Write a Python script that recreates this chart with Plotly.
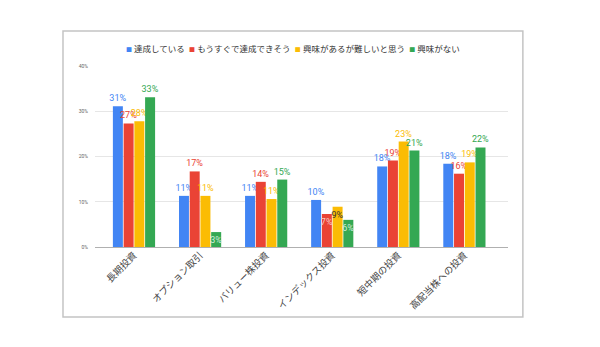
import plotly.graph_objects as go

# Survey categories (investment styles)
categories = ["長期投資", "オプション取引", "バリュー株投資", "インデックス投資", "短中期の投資", "高配当株への投資"]

# Share of respondents per answer, in percent
series_names = ["達成している", "もうすぐで達成できそう", "興味があるが難しいと思う", "興味がない"]
achieved = [31.1, 11.3, 11.3, 10.4, 17.8, 18.4]
almost = [27.3, 16.7, 14.4, 7.3, 19.1, 16.2]
difficult = [27.8, 11.3, 10.6, 8.9, 23.3, 18.7]
not_interested = [33.1, 3.3, 14.9, 6.0, 21.3, 22.0]

y_ticks = [0, 10, 20, 30, 40]

colors = ["#4285F4", "#EA4335", "#FBBC04", "#34A853"]
inside_text_colors = ["#dce8fd", "#f9c9c4", "#333333", "#cfeedd"]

font_family = "Roboto, 'Noto Sans CJK JP', sans-serif"

fig = go.Figure()
for name, vals, col, in_col in zip(series_names, [achieved, almost, difficult, not_interested],
                                    colors, inside_text_colors):
    positions = ["inside" if v < 9.5 else "outside" for v in vals]
    fig.add_trace(go.Bar(
        x=categories, y=vals, name=name,
        marker=dict(color=col, line=dict(width=0)),
        text=[f"{round(v)}%" for v in vals],
        textposition=positions,
        textangle=0,
        insidetextanchor="end",
        textfont=dict(family=font_family, size=9, color=col),
        insidetextfont=dict(family=font_family, size=9, color=in_col),
        outsidetextfont=dict(family=font_family, size=9, color=col),
        constraintext="none",
        cliponaxis=False,
        showlegend=False,
        hoverinfo="skip",
    ))

# Compact one-line legend: small coloured square followed by the series name
nb = "\u00a0"
legend_parts = [
    f'<span style="color:{c};font-size:6px">■</span>{nb}{n}'
    for n, c in zip(series_names, colors)
]
legend_text = (nb * 2).join(legend_parts)

fig.update_layout(
    width=600, height=347,
    margin=dict(l=95, r=92, t=66, b=100),
    paper_bgcolor="white", plot_bgcolor="white",
    barmode="group", bargap=0.35, bargroupgap=0.07,
    font=dict(family=font_family, color="#444444"),
    showlegend=False,
    annotations=[dict(
        text=legend_text, xref="paper", yref="paper",
        x=0.479, y=1.094, xanchor="center", yanchor="middle",
        showarrow=False, font=dict(size=8.5, color="#333333", family=font_family),
    )],
    xaxis=dict(
        range=[-0.59, 5.66], tickangle=-45, showgrid=False,
        tickfont=dict(size=9.5, color="#444444"), showline=False, ticks="",
    ),
    yaxis=dict(
        range=[0, 40], tickvals=y_ticks, ticktext=[f"{t}%" for t in y_ticks],
        tickfont=dict(size=5, color="#666666"), gridcolor="#e6e6e6", gridwidth=1,
        zeroline=True, zerolinecolor="#b0b0b0", zerolinewidth=1,
        ticklabelstandoff=6, showline=False,
    ),
    shapes=[dict(
        type="rect", xref="paper", yref="paper",
        x0=-0.0775, x1=1.036, y0=-0.387, y1=1.193,
        line=dict(color="#c4c4c4", width=1.5), fillcolor="rgba(0,0,0,0)", layer="below",
    )],
)

fig.write_html("out.html")
